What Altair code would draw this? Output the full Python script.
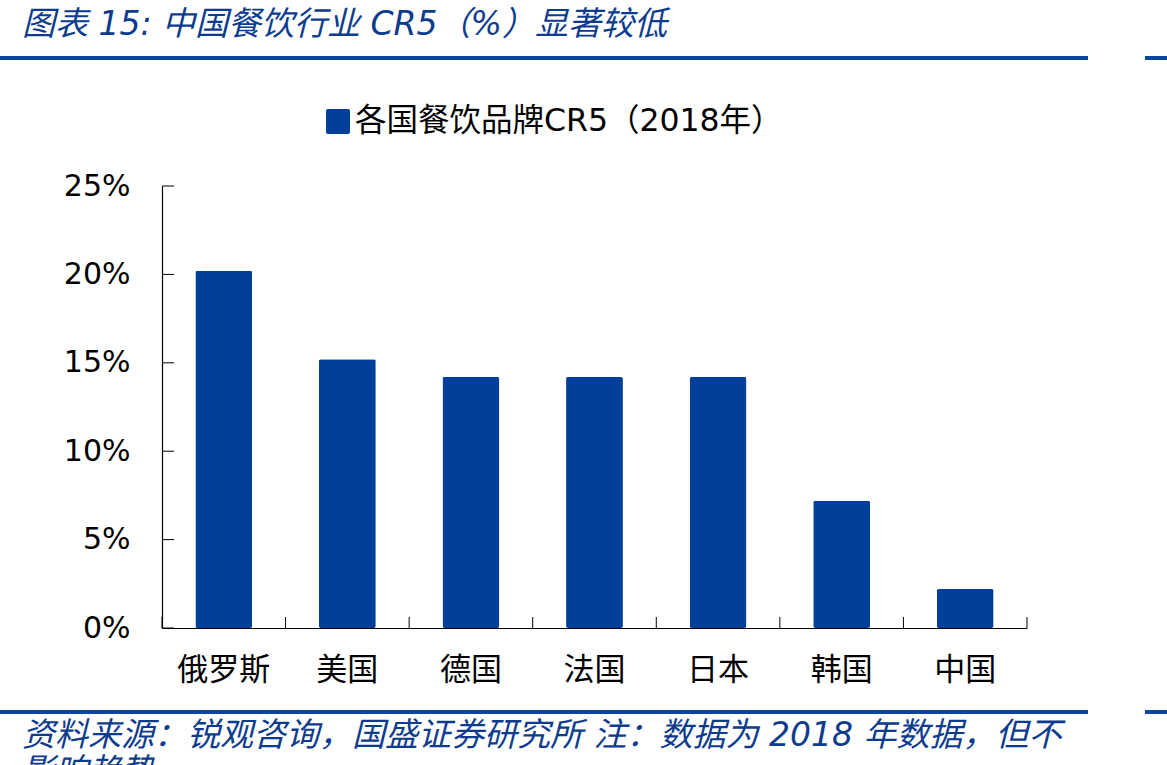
import altair as alt
import pandas as pd

countries = ["俄罗斯", "美国", "德国", "法国", "日本", "韩国", "中国"]
cr5 = [20.2, 15.2, 14.2, 14.2, 14.2, 7.2, 2.2]
y_ticks = [0, 5, 10, 15, 20, 25]
boundaries = [0, 1, 2, 3, 4, 5, 6, 7]

title_text = "图表 15:  中国餐饮行业 CR5（%）显著较低"
legend_text = "各国餐饮品牌CR5（2018年）"
footer_1 = "资料来源：锐观咨询，国盛证券研究所  注：数据为 2018 年数据，但不"
footer_2 = "影响趋势"

BLUE = "#00409A"
TXT_BLUE = "#0D3C8E"
FONT = "DejaVu Sans, Noto Sans CJK SC"
W, H = 865, 442

df = pd.DataFrame({"country": countries, "cr5": cr5})

bars = alt.Chart(df).mark_bar(color=BLUE, cornerRadius=2).encode(
    x=alt.X("country:N", sort=countries, title=None,
            scale=alt.Scale(paddingInner=0.54, paddingOuter=0.27),
            axis=alt.Axis(labelAngle=0, ticks=False, domainColor="black", domainWidth=1.2,
                          labelFontSize=31, labelFont="Noto Sans CJK SC", labelColor="black",
                          labelPadding=27)),
    y=alt.Y("cr5:Q", title=None,
            scale=alt.Scale(domain=[0, 25], nice=False),
            axis=alt.Axis(values=y_ticks, labelExpr="datum.value + '%'", ticks=False, grid=False,
                          domainColor="black", domainWidth=1.2, labelFontSize=30,
                          labelFont="DejaVu Sans", labelColor="black", labelPadding=32)),
)

xt = alt.Chart(pd.DataFrame({"b": boundaries})).mark_rule(color="black", strokeWidth=1).encode(
    x=alt.X("b:Q", scale=alt.Scale(domain=[0, 7], nice=False), axis=None),
    y=alt.value(H), y2=alt.value(H - 11),
)

yt = alt.Chart(pd.DataFrame({"v": y_ticks})).mark_rule(color="black", strokeWidth=1).encode(
    y=alt.Y("v:Q"), x=alt.value(0), x2=alt.value(12),
)

one = pd.DataFrame({"k": [0]})


def text(t, x, y, size, color, style="normal", font=FONT, baseline="alphabetic"):
    return alt.Chart(one).mark_text(align="left", baseline=baseline, fontSize=size, color=color,
                                    fontStyle=style, font=font).encode(
        x=alt.value(x), y=alt.value(y), text=alt.value(t))


def hline(x1, x2, y):
    return alt.Chart(one).mark_rule(color="#0A46A0", strokeWidth=4).encode(
        x=alt.value(x1), x2=alt.value(x2), y=alt.value(y))


legend_sq = alt.Chart(one).mark_rect(color=BLUE, cornerRadius=2).encode(
    x=alt.value(164), x2=alt.value(188), y=alt.value(-77), y2=alt.value(-52))

chart = alt.layer(
    bars, xt, yt,
    text(title_text, -140, -151, 33, TXT_BLUE, "italic"),
    hline(-162, 926, -128), hline(983, 1010, -128),
    legend_sq,
    text(legend_text, 193, -64, 31.5, "black", baseline="middle"),
    hline(-162, 926, 526), hline(983, 1010, 526),
    text(footer_1, -140, 560, 33, TXT_BLUE, "italic"),
    text(footer_2, -140, 596, 33, TXT_BLUE, "italic"),
).resolve_scale(x="independent").properties(
    width=W, height=H, background="white",
    autosize=alt.AutoSizeParams(type="none"),
    padding={"left": 162, "top": 186, "right": 140, "bottom": 137},
).configure_view(strokeWidth=0)

chart.save("out.html", embed_options={"renderer": "svg", "actions": False})
